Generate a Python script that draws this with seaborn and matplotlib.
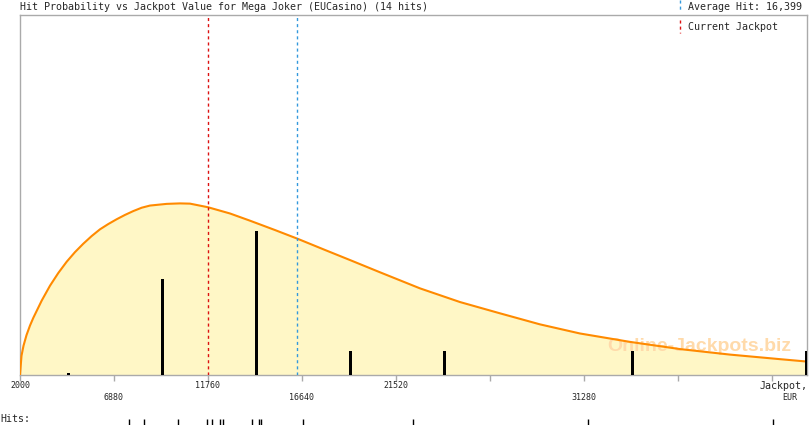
import matplotlib
matplotlib.use("Agg")
import matplotlib.pyplot as plt
from matplotlib.lines import Line2D
import seaborn as sns
import pandas as pd

# ---------------- data ----------------
title = "Hit Probability vs Jackpot Value for Mega Joker (EUCasino) (14 hits)"
average_hit = 16399
current_jackpot = 11760

# individual hits (EUR)
hits = [7674, 8453, 10187, 11724, 11983, 12399, 12523, 14029, 14423, 14527,
        16708, 22387, 31503, 41076]

# histogram bars (bin positions, counts)
bar_pos = [4440, 9320, 14200, 19080, 23960, 33720, 42750]
bar_counts = [0.08, 4, 6, 1, 1, 1, 1]

# fitted probability curve (scaled to count units)
curve_x = [2000, 2078, 2182, 2337, 2519, 2690, 3127, 3557, 3988, 4424,
           4855, 5286, 5722, 6153, 6584, 7020, 7451, 7882, 8318, 8749,
           9616, 10306, 10826, 11760, 12902, 13940, 15238, 16432, 17834,
           19132, 20689, 22766, 24843, 26919, 28996, 31072, 33668, 36264,
           38860, 41455, 42857]
curve_y = [0, 0.80, 1.22, 1.66, 2.06, 2.38, 3.10, 3.72, 4.25, 4.72,
           5.12, 5.47, 5.79, 6.07, 6.29, 6.49, 6.67, 6.83, 6.97, 7.06,
           7.13, 7.15, 7.14, 6.99, 6.73, 6.43, 6.04, 5.67, 5.21,
           4.79, 4.28, 3.61, 3.04, 2.57, 2.11, 1.73, 1.38, 1.08,
           0.85, 0.66, 0.56]

tick_vals = [2000, 6880, 11760, 16640, 21520, 26400, 31280, 36160, 41040]
tick_labels = ["2000", "6880", "11760", "16640", "21520", "", "31280", "", "Jackpot,"]
tick_row = [0, 1, 0, 1, 0, 0, 1, 0, 0]

xmin, xmax = 2000, 42860
ymax = 15

# ---------------- styling ----------------
W, H = 810, 425
sns.set_theme(style="white")
plt.rcParams["font.family"] = ["DejaVu Sans Mono", "DejaVu Sans"]

FILL = "#FFF7C6"
ORANGE = "#FF8A00"
RED = "#DD1111"
BLUE = "#3399DD"
GRAY = "#AAAAAA"

fig = plt.figure(figsize=(W / 100, H / 100), dpi=100)
fig.patch.set_facecolor("white")

ax = fig.add_axes([20 / W, (H - 375) / H, (807 - 20) / W, (375 - 15) / H])
ax.set_facecolor("white")
ax.set_xlim(xmin, xmax)
ax.set_ylim(0, ymax)

curve_df = pd.DataFrame({"jackpot": curve_x, "p": curve_y})
ax.fill_between(curve_df["jackpot"], curve_df["p"], color=FILL, lw=0, zorder=1)

# watermark
ax.text(0.863, 0.078, "Online-Jackpots.biz", transform=ax.transAxes,
        ha="center", va="center", fontsize=14, fontweight="bold",
        family="Liberation Sans", color="#FFDAAA", zorder=2)

sns.lineplot(data=curve_df, x="jackpot", y="p", color=ORANGE, lw=1.5,
             ax=ax, zorder=4, sort=False)

px = (xmax - xmin) / 787.0
ax.bar(bar_pos, bar_counts, width=3 * px, align="edge", color="black",
       lw=0, zorder=5)

ax.axvline(current_jackpot, color=RED, lw=1.0, ls=(0, (2.2, 2.2)), zorder=6)
ax.axvline(average_hit, color=BLUE, lw=1.0, ls=(0, (2.2, 2.2)), zorder=6)

for s in ax.spines.values():
    s.set_color(GRAY)
    s.set_linewidth(1.0)
    s.set_visible(True)

ax.set_yticks([])
ax.set_xticks(tick_vals)
ax.set_xticklabels([])
ax.tick_params(axis="x", bottom=True, length=4, width=1, color=GRAY, direction="out")
ax.set_xlabel("")
ax.set_ylabel("")

for v, lab, r in zip(tick_vals, tick_labels, tick_row):
    if not lab:
        continue
    if lab.startswith("Jackpot"):
        ax.annotate(lab, xy=(xmax, 0), xycoords="data", xytext=(1, -11),
                    textcoords="offset pixels", ha="right", va="center",
                    fontsize=7.2)
        ax.annotate("EUR", xy=(v, 0), xycoords="data", xytext=(18, -23),
                    textcoords="offset pixels", ha="center", va="center",
                    fontsize=6)
        continue
    dy = -11 if r == 0 else -23
    ax.annotate(lab, xy=(v, 0), xycoords="data", xytext=(0, dy),
                textcoords="offset pixels", ha="center", va="center",
                fontsize=6)

# title
fig.text(20 / W, 1 - 7 / H, title, ha="left", va="center", fontsize=7.2)

# legend
fig.add_artist(Line2D([680 / W, 680 / W], [1 - 0 / H, 1 - 10 / H],
                      transform=fig.transFigure, color=BLUE, lw=1.0,
                      ls=(0, (2.2, 2.2))))
fig.text(688 / W, 1 - 7 / H, "Average Hit: 16,399", ha="left", va="center",
         fontsize=7.2)
fig.add_artist(Line2D([680 / W, 680 / W], [1 - 20 / H, 1 - 33 / H],
                      transform=fig.transFigure, color=RED, lw=1.0,
                      ls=(0, (2.2, 2.2))))
fig.text(688 / W, 1 - 27 / H, "Current Jackpot", ha="left", va="center",
         fontsize=7.2)

# hits rug
rax = fig.add_axes([20 / W, 0, 787 / W, 6 / H])
rax.set_xlim(xmin, xmax)
rax.set_ylim(0, 1)
sns.rugplot(x=hits, height=1.0, color="black", lw=1.0, ax=rax, expand_margins=False)
rax.axis("off")
fig.text(0, 1 - 419 / H, "Hits:", ha="left", va="center", fontsize=7.2)

fig.savefig("out.png", dpi=100)
